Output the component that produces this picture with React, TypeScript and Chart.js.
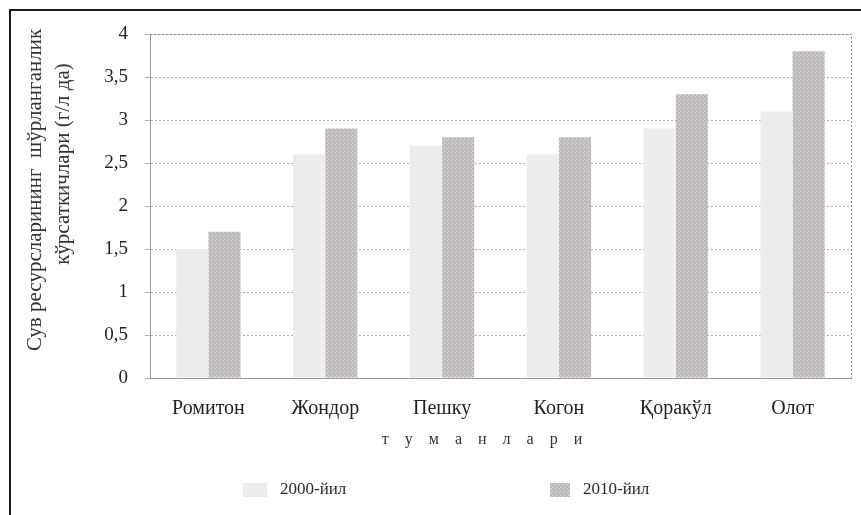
import React, { useEffect, useRef } from "react";
import { Chart, registerables } from "chart.js";

Chart.register(...registerables);

const categories = ["Ромитон", "Жондор", "Пешку", "Когон", "Қоракўл", "Олот"];
const seriesLabels = ["2000-йил", "2010-йил"];
const values2000 = [1.5, 2.6, 2.7, 2.6, 2.9, 3.1];
const values2010 = [1.7, 2.9, 2.8, 2.8, 3.3, 3.8];
const yTickLabels = ["0", "0,5", "1", "1,5", "2", "2,5", "3", "3,5", "4"];
const yTitle = ["Сув ресурсларининг  шўрланганлик", "кўрсаткичлари (г/л да)"];
const xTitle = "т    у    м    а    н    л    а    р    и";

const FONT = "'Liberation Serif', 'DejaVu Serif', serif";

function makePattern(): CanvasPattern | string {
  const c = document.createElement("canvas");
  c.width = 4;
  c.height = 4;
  const ctx = c.getContext("2d");
  if (!ctx) return "#c0bcbf";
  ctx.fillStyle = "#c6c2c5";
  ctx.fillRect(0, 0, 4, 4);
  ctx.fillStyle = "#b0acaf";
  ctx.fillRect(0, 0, 1, 1);
  ctx.fillRect(1, 1, 1, 1);
  ctx.fillRect(2, 2, 1, 1);
  ctx.fillRect(3, 3, 1, 1);
  ctx.fillStyle = "#d6d2d5";
  ctx.fillRect(3, 0, 1, 1);
  ctx.fillRect(0, 3, 1, 1);
  const p = ctx.createPattern(c, "repeat");
  return p || "#c0bcbf";
}

const framePlugin = {
  id: "frame",
  beforeDraw(chart: any) {
    const ctx = chart.ctx;
    ctx.save();
    ctx.fillStyle = "#ffffff";
    ctx.fillRect(0, 0, chart.width, chart.height);
    ctx.strokeStyle = "#1a1a1a";
    ctx.lineWidth = 2;
    ctx.beginPath();
    ctx.moveTo(10, chart.height);
    ctx.lineTo(10, 10);
    ctx.lineTo(chart.width, 10);
    ctx.stroke();
    ctx.restore();
  },
  afterDraw(chart: any) {
    const { ctx, chartArea } = chart;
    ctx.save();
    ctx.strokeStyle = "#8a8a8a";
    ctx.lineWidth = 1;
    ctx.setLineDash([2, 2]);
    ctx.beginPath();
    ctx.moveTo(chartArea.left, chartArea.top + 0.5);
    ctx.lineTo(chartArea.right + 0.5, chartArea.top + 0.5);
    ctx.lineTo(chartArea.right + 0.5, chartArea.bottom);
    ctx.stroke();
    ctx.restore();

    // y axis title (two lines, rotated)
    ctx.save();
    ctx.font = `21px ${FONT}`;
    ctx.fillStyle = "#333";
    ctx.textAlign = "center";
    ctx.textBaseline = "middle";
    const titlePos = [
      { x: 35, y: 190 },
      { x: 63, y: 164 },
    ];
    yTitle.forEach((t, i) => {
      ctx.save();
      ctx.translate(titlePos[i].x, titlePos[i].y);
      ctx.rotate(-Math.PI / 2);
      ctx.fillText(t, 0, 0);
      ctx.restore();
    });
    ctx.restore();

    // x axis title
    ctx.save();
    ctx.font = `16px ${FONT}`;
    ctx.fillStyle = "#333";
    ctx.textAlign = "center";
    ctx.textBaseline = "middle";
    ctx.fillText(xTitle, 482, 440);
    ctx.restore();

    // legend
    const ds = chart.data.datasets;
    const y = 490;
    const items = [
      { box: 243, w: 24, text: 280 },
      { box: 550, w: 20, text: 583 },
    ];
    ctx.save();
    ctx.font = `17px ${FONT}`;
    ctx.textBaseline = "middle";
    ds.forEach((d: any, i: number) => {
      const it = items[i];
      ctx.fillStyle = d.backgroundColor;
      ctx.fillRect(it.box, y - 7, it.w, 14);
      ctx.fillStyle = "#2a2a2a";
      ctx.fillText(d.label, it.text, y);
    });
    ctx.restore();
  },
};

export default function App() {
  const ref = useRef<HTMLCanvasElement | null>(null);

  useEffect(() => {
    document.body.style.margin = "0";
    const canvas = ref.current;
    if (!canvas) return;
    const pattern = makePattern();
    const chart = new Chart(canvas, {
      type: "bar",
      data: {
        labels: categories,
        datasets: [
          {
            label: seriesLabels[0],
            data: values2000,
            backgroundColor: "#ececec",
            borderWidth: 0,
          },
          {
            label: seriesLabels[1],
            data: values2010,
            backgroundColor: pattern as any,
            borderWidth: 0,
          },
        ],
      },
      options: {
        responsive: false,
        animation: false,
        layout: { padding: { left: 14, top: 34, right: 10, bottom: 55 } },
        datasets: { bar: { categoryPercentage: 0.55, barPercentage: 1 } },
        plugins: {
          legend: { display: false },
          tooltip: { enabled: false },
        },
        scales: {
          x: {
            grid: { display: false, drawTicks: false },
            border: { display: true, color: "#9a9a9a" },
            ticks: {
              padding: 19,
              color: "#222",
              font: { family: FONT, size: 20 },
            },
            title: { display: false },
            afterFit(scale: any) {
              scale.height = 82;
            },
          },
          y: {
            min: 0,
            max: 4,
            grid: {
              color: "#b0b0b0",
              drawTicks: true,
              tickLength: 5,
              tickColor: "#b0b0b0",
            },
            border: { display: true, color: "#9a9a9a", dash: [2, 2] },
            ticks: {
              stepSize: 0.5,
              padding: 17,
              color: "#222",
              font: { family: FONT, size: 19 },
              callback: (_v: any, i: number) => yTickLabels[i],
            },
            title: { display: false },
            afterFit(scale: any) {
              scale.width = 136;
            },
          },
        },
      },
      plugins: [framePlugin],
    });
    return () => chart.destroy();
  }, []);

  return (
    <div style={{ width: 861, height: 515 }}>
      <canvas ref={ref} width={861} height={515} style={{ display: "block" }} />
    </div>
  );
}
